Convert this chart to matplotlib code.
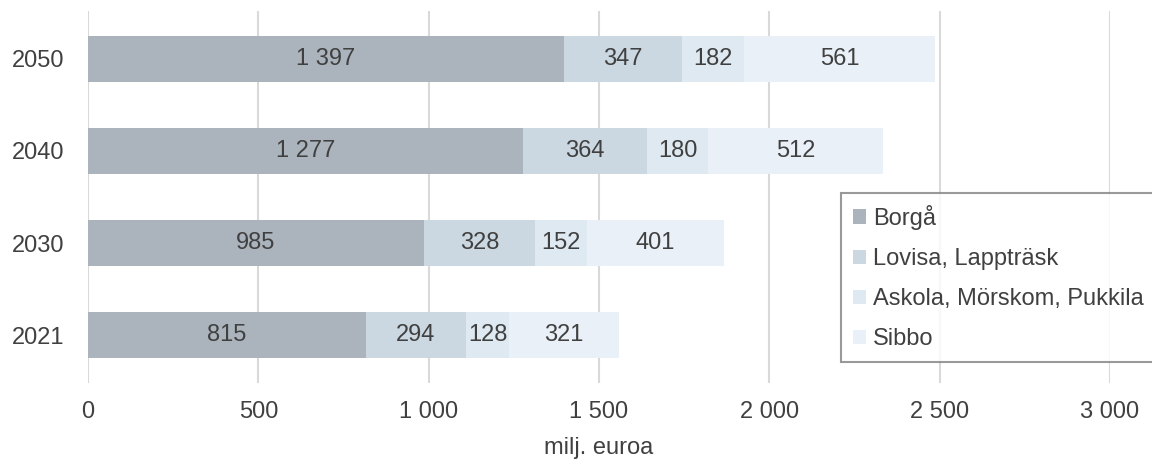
import matplotlib
matplotlib.use("Agg")
from matplotlib import pyplot as plt
import numpy as np

plt.rcParams['font.family'] = ['Liberation Sans', 'DejaVu Sans']

years = ['2021', '2030', '2040', '2050']
regions = ['Borgå', 'Lovisa, Lappträsk', 'Askola, Mörskom, Pukkila', 'Sibbo']
borga = [815, 985, 1277, 1397]
lovisa = [294, 328, 364, 347]
askola = [128, 152, 180, 182]
sibbo = [321, 401, 512, 561]
colors = ['#abb4bd', '#cbd8e1', '#dee9f1', '#e9f0f7']

TEXT = '#404040'
FS = 17


def fmt(v):
    # tuhaterotin välilyönnillä
    return f'{int(v):,}'.replace(',', ' ')


fig = plt.figure(figsize=(11.52, 4.61), dpi=100)
ax = fig.add_axes([88 / 1152, 78 / 461, 1022 / 1152, 372 / 461])

y = np.arange(len(years))
left = np.zeros(len(years))
for name, vals, c in zip(regions, [borga, lovisa, askola, sibbo], colors):
    bars = ax.barh(y, vals, left=left, height=0.5, color=c, label=name, zorder=2)
    ax.bar_label(bars, labels=[fmt(v) for v in vals], label_type='center',
                 fontsize=FS, color=TEXT)
    left += np.array(vals)

ax.set_xlim(0, 3000)
ax.set_ylim(-0.52, 3.52)
ax.set_xticks(np.arange(0, 3001, 500))
ax.set_xticklabels([fmt(v) for v in np.arange(0, 3001, 500)])
ax.set_yticks(y)
ax.set_yticklabels(years)
ax.tick_params(axis='both', length=0, labelsize=FS, colors=TEXT)
ax.tick_params(axis='y', pad=17)
ax.tick_params(axis='x', pad=13)
ax.xaxis.grid(True, color='#d9d9d9', linewidth=1.5, zorder=0)
ax.set_axisbelow(True)
for s in ax.spines.values():
    s.set_visible(False)
ax.set_xlabel('milj. euroa', fontsize=FS, color=TEXT, labelpad=10)

leg = ax.legend(loc='upper left', bbox_to_anchor=(841 / 1152, 1 - 193 / 461),
                bbox_transform=fig.transFigure, borderaxespad=0,
                fontsize=FS, labelcolor=TEXT, frameon=True, fancybox=False,
                handlelength=0.55, handleheight=0.55, handletextpad=0.3,
                labelspacing=0.77, borderpad=0.5)
leg.get_frame().set_edgecolor('#808080')
leg.get_frame().set_linewidth(1.5)
leg.set_zorder(5)

fig.savefig('out.png', dpi=100)
